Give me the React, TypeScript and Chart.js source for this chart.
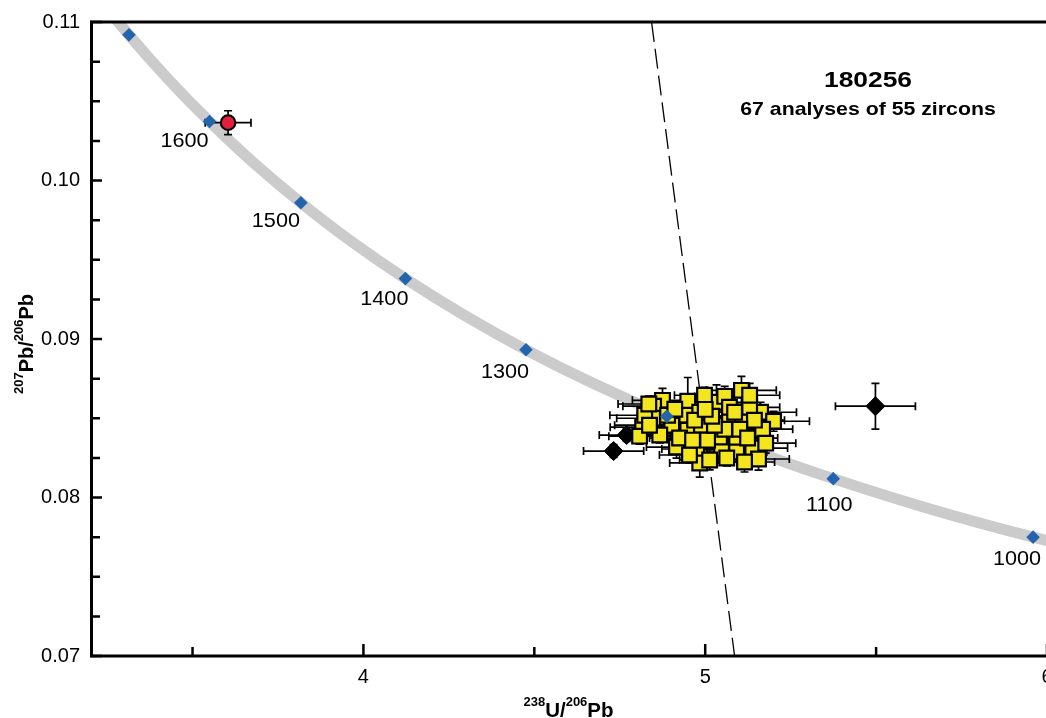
import React, { useEffect, useRef } from "react";
import { Chart, registerables } from "chart.js";

Chart.register(...registerables);

// ---------- data ----------
// Concordia curve points (every 50 Ma from 950 to 1800 Ma)
const concordiaX = [6.298, 5.9593, 5.653, 5.3746, 5.1204, 4.8875, 4.6733, 4.4756, 4.2926, 4.1227, 3.9645, 3.817, 3.679, 3.5497, 3.4282, 3.3139, 3.2063, 3.1046];
const concordiaY = [0.07574, 0.0775, 0.07931, 0.08119, 0.08312, 0.08512, 0.08719, 0.08932, 0.09153, 0.09381, 0.09616, 0.0986, 0.10111, 0.10372, 0.10641, 0.10919, 0.11206, 0.11504];

// Age markers on the concordia
const markerAges = [1000, 1100, 1200, 1300, 1400, 1500, 1600, 1700];
const markerX = [5.9593, 5.3746, 4.8875, 4.4756, 4.1227, 3.817, 3.5497, 3.3139];
const markerY = [0.0775, 0.08119, 0.08512, 0.08932, 0.09381, 0.0986, 0.10372, 0.10919];
const markerLabels = ["1000", "1100", "", "1300", "1400", "1500", "1600", ""];

// Discordia (dashed) line
const discordiaX = [4.843, 5.086];
const discordiaY = [0.11, 0.07];

// Concordant zircon analyses (yellow squares)
const zirconX = [4.875, 4.849, 4.846, 4.817, 4.808, 4.949, 4.946, 4.949, 4.916, 4.975, 4.984, 4.902, 4.89, 4.911, 4.823, 4.835, 5.106, 5.033, 5.057, 5.071, 5.109, 5.162, 5.2, 5.168, 4.989, 5.048, 5.092, 5.139, 5.156, 5.177, 5.092, 5.042, 5.071, 4.984, 4.867, 5.13, 5.144, 5.013, 5.115, 4.969, 5.007, 5.057, 5.101, 5.027, 4.925, 5.086, 5.124, 4.954, 5.063, 5.019, 4.998, 5.13, 4.963, 5.0, 4.837];
const zirconY = [0.08613, 0.08576, 0.085, 0.08444, 0.08387, 0.08607, 0.08519, 0.08425, 0.08318, 0.08306, 0.08218, 0.08456, 0.08519, 0.08557, 0.08519, 0.0859, 0.08676, 0.08601, 0.08638, 0.08488, 0.08513, 0.08538, 0.08481, 0.08431, 0.08456, 0.08306, 0.08362, 0.08312, 0.08243, 0.08343, 0.08287, 0.08381, 0.08569, 0.08538, 0.08394, 0.08569, 0.08488, 0.08237, 0.08224, 0.08488, 0.08362, 0.08431, 0.08431, 0.08456, 0.08375, 0.08538, 0.08375, 0.08268, 0.08249, 0.08513, 0.08645, 0.08645, 0.08362, 0.08556, 0.08456];
const zirconXErr = [0.088, 0.09, 0.105, 0.095, 0.09, 0.088, 0.088, 0.102, 0.088, 0.102, 0.088, 0.088, 0.088, 0.088, 0.102, 0.09, 0.102, 0.088, 0.088, 0.088, 0.088, 0.105, 0.105, 0.088, 0.102, 0.088, 0.102, 0.102, 0.09, 0.088, 0.088, 0.088, 0.088, 0.088, 0.102, 0.088, 0.088, 0.088, 0.088, 0.088, 0.088, 0.088, 0.088, 0.088, 0.088, 0.088, 0.088, 0.088, 0.088, 0.088, 0.088, 0.088, 0.088, 0.088, 0.102];
const zirconYErr = [0.00075, 0.00063, 0.0005, 0.0005, 0.0005, 0.0015, 0.00063, 0.00063, 0.0007, 0.00063, 0.0009, 0.0005, 0.0005, 0.0005, 0.0005, 0.0005, 0.00088, 0.0011, 0.00063, 0.00063, 0.00063, 0.00063, 0.00063, 0.00063, 0.00063, 0.00063, 0.00063, 0.00063, 0.0007, 0.00063, 0.00063, 0.00063, 0.00063, 0.00063, 0.0005, 0.00063, 0.00063, 0.00063, 0.00063, 0.0005, 0.0005, 0.0005, 0.0005, 0.0005, 0.0005, 0.0005, 0.0005, 0.0005, 0.0005, 0.0005, 0.0005, 0.00075, 0.0005, 0.0005, 0.0005];

// Discordant analyses (black diamonds)
const outlierX = [4.732, 4.77, 5.498];
const outlierY = [0.08293, 0.08394, 0.08576];
const outlierXErr = [0.088, 0.08, 0.117];
const outlierYErr = [0.0004, 0.0004, 0.00144];

// Inherited grain (red circle)
const inheritedX = [3.604];
const inheritedY = [0.10365];
const inheritedXErr = [0.067];
const inheritedYErr = [0.00075];

// Axes
const xTickValues = [3.5, 4, 4.5, 5, 5.5, 6];
const xMajorTicks = [4, 5, 6];
const yTickValues = [0.07, 0.0725, 0.075, 0.0775, 0.08, 0.0825, 0.085, 0.0875, 0.09, 0.0925, 0.095, 0.0975, 0.1, 0.1025, 0.105, 0.1075, 0.11];
const yMajorTicks = [0.07, 0.08, 0.09, 0.1, 0.11];

const sampleTitle = "180256";
const sampleSubtitle = "67 analyses of 55 zircons";

// ---------- drawing helpers ----------
const FAMILY = '"Liberation Sans", Arial, Helvetica, sans-serif';

const labelOffsets: Record<string, [number, number]> = {
  "1000": [-16, 21],
  "1100": [-4, 26],
  "1300": [-21, 21],
  "1400": [-21, 20],
  "1500": [-25, 18],
  "1600": [-25, 19],
};

function pairs(xs: number[], ys: number[]) {
  return xs.map((x, i) => ({ x, y: ys[i] }));
}

function drawStretched(ctx: CanvasRenderingContext2D, text: string, cx: number, base: number, font: string, sx: number) {
  ctx.save();
  ctx.translate(cx, base);
  ctx.scale(sx, 1);
  ctx.font = font;
  ctx.textAlign = "center";
  ctx.textBaseline = "alphabetic";
  ctx.fillStyle = "#000";
  ctx.fillText(text, 0, 0);
  ctx.restore();
}

function drawRich(ctx: CanvasRenderingContext2D, parts: [string, boolean][], cx: number, base: number, bigPx: number, smallPx: number, raise: number) {
  const big = `bold ${bigPx}px ${FAMILY}`;
  const small = `bold ${smallPx}px ${FAMILY}`;
  let total = 0;
  for (const [t, sup] of parts) {
    ctx.font = sup ? small : big;
    total += ctx.measureText(t).width;
  }
  let x = cx - total / 2;
  ctx.textAlign = "left";
  ctx.textBaseline = "alphabetic";
  ctx.fillStyle = "#000";
  for (const [t, sup] of parts) {
    ctx.font = sup ? small : big;
    ctx.fillText(t, x, sup ? base - raise : base);
    x += ctx.measureText(t).width;
  }
}

const errorBarPlugin = {
  id: "errorBars",
  beforeDatasetDraw(chart: any, args: any) {
    const ds = chart.data.datasets[args.index];
    if (!ds.xErr) return;
    const { ctx } = chart;
    const xs = chart.scales.x;
    const ys = chart.scales.y;
    const cap = 4;
    ctx.save();
    ctx.strokeStyle = "#000";
    ctx.lineWidth = 1.7;
    ctx.lineCap = "butt";
    ds.data.forEach((p: any, i: number) => {
      const px = xs.getPixelForValue(p.x);
      const py = ys.getPixelForValue(p.y);
      const x0 = xs.getPixelForValue(p.x - ds.xErr[i]);
      const x1 = xs.getPixelForValue(p.x + ds.xErr[i]);
      const y0 = ys.getPixelForValue(p.y - ds.yErr[i]);
      const y1 = ys.getPixelForValue(p.y + ds.yErr[i]);
      ctx.beginPath();
      ctx.moveTo(x0, py);
      ctx.lineTo(x1, py);
      ctx.moveTo(x0, py - cap);
      ctx.lineTo(x0, py + cap);
      ctx.moveTo(x1, py - cap);
      ctx.lineTo(x1, py + cap);
      ctx.moveTo(px, y0);
      ctx.lineTo(px, y1);
      ctx.moveTo(px - cap, y0);
      ctx.lineTo(px + cap, y0);
      ctx.moveTo(px - cap, y1);
      ctx.lineTo(px + cap, y1);
      ctx.stroke();
    });
    ctx.restore();
  },
};

const decorPlugin = {
  id: "decor",
  afterDraw(chart: any) {
    const { ctx, chartArea } = chart;
    const xs = chart.scales.x;
    const ys = chart.scales.y;
    const { left, top, bottom } = chartArea;
    ctx.save();
    // frame
    ctx.strokeStyle = "#000";
    ctx.lineWidth = 3;
    ctx.lineCap = "square";
    ctx.beginPath();
    ctx.moveTo(left + 1.5, top);
    ctx.lineTo(left + 1.5, bottom);
    ctx.moveTo(left + 1.5, bottom);
    ctx.lineTo(chart.width, bottom);
    ctx.moveTo(left + 1.5, top);
    ctx.lineTo(chart.width, top);
    ctx.stroke();
    // inward tick marks
    ctx.lineWidth = 2.5;
    ctx.lineCap = "butt";
    ctx.beginPath();
    for (const t of xs.ticks) {
      const px = xs.getPixelForValue(t.value);
      const len = xMajorTicks.includes(t.value) ? 12 : 9;
      ctx.moveTo(px, bottom);
      ctx.lineTo(px, bottom - len);
    }
    for (const t of ys.ticks) {
      const py = ys.getPixelForValue(t.value);
      const len = yMajorTicks.includes(t.value) ? 12 : 10;
      ctx.moveTo(left, py);
      ctx.lineTo(left + len, py);
    }
    ctx.stroke();

    // age labels on concordia
    ctx.fillStyle = "#000";
    markerLabels.forEach((lab, i) => {
      if (!lab) return;
      const off = labelOffsets[lab] || [-20, 20];
      const px = xs.getPixelForValue(markerX[i]) + off[0];
      const py = ys.getPixelForValue(markerY[i]) + off[1];
      ctx.save();
      ctx.translate(px, py);
      ctx.scale(1.03, 1);
      ctx.font = `21px ${FAMILY}`;
      ctx.textAlign = "center";
      ctx.textBaseline = "middle";
      ctx.fillText(lab, 0, 1);
      ctx.restore();
    });

    // sample title
    drawStretched(ctx, sampleTitle, 868, 86.5, `bold 22px ${FAMILY}`, 1.2);
    drawStretched(ctx, sampleSubtitle, 868, 115, `bold 18.5px ${FAMILY}`, 1.15);

    // axis titles
    const cx = (chartArea.left + 1047) / 2;
    drawRich(ctx, [["238", true], ["U/", false], ["206", true], ["Pb", false]], cx, 716.5, 20.5, 13, 10.5);
    ctx.save();
    ctx.translate(33, 344);
    ctx.rotate(-Math.PI / 2);
    drawRich(ctx, [["207", true], ["Pb/", false], ["206", true], ["Pb", false]], 0, 0, 20, 13, 10.5);
    ctx.restore();

    ctx.restore();
  },
};

export default function App() {
  const canvasRef = useRef<HTMLCanvasElement | null>(null);

  useEffect(() => {
    document.body.style.margin = "0";
    const canvas = canvasRef.current;
    if (!canvas) return;

    const chart = new Chart(canvas, {
      type: "scatter",
      data: {
        datasets: [
          {
            label: "Concordia",
            type: "line",
            data: pairs(concordiaX, concordiaY),
            showLine: true,
            borderColor: "#cbcbcb",
            borderWidth: 11,
            borderCapStyle: "butt",
            pointRadius: 0,
            tension: 0.3,
            fill: false,
            order: 10,
          } as any,
          {
            label: "Discordia",
            type: "line",
            data: pairs(discordiaX, discordiaY),
            showLine: true,
            borderColor: "#000",
            borderWidth: 1.3,
            borderDash: [20, 7],
            pointRadius: 0,
            fill: false,
            order: 9,
          } as any,
          {
            label: "Discordant",
            data: pairs(outlierX, outlierY),
            xErr: outlierXErr,
            yErr: outlierYErr,
            pointStyle: "rectRot",
            pointRadius: 9.5,
            backgroundColor: "#000",
            borderColor: "#000",
            borderWidth: 1,
            order: 8,
          } as any,
          {
            label: "Zircons",
            data: pairs(zirconX, zirconY),
            xErr: zirconXErr,
            yErr: zirconYErr,
            pointStyle: "rect",
            pointRadius: 10.4,
            backgroundColor: "#f3e61e",
            borderColor: "#000",
            borderWidth: 2.2,
            order: 7,
          } as any,
          {
            label: "Inherited",
            data: pairs(inheritedX, inheritedY),
            xErr: inheritedXErr,
            yErr: inheritedYErr,
            pointStyle: "circle",
            pointRadius: 7.3,
            backgroundColor: "#e21f3d",
            borderColor: "#000",
            borderWidth: 2,
            order: 6,
          } as any,
          {
            label: "Age markers (Ma)",
            data: pairs(markerX, markerY),
            ages: markerAges,
            pointStyle: "rectRot",
            pointRadius: 6.8,
            backgroundColor: "#2364ae",
            borderColor: "#2364ae",
            borderWidth: 0,
            order: 1,
          } as any,
        ],
      },
      options: {
        animation: false,
        responsive: false,
        devicePixelRatio: 1,
        events: [],
        layout: { padding: { top: 21.5, right: 53, left: 0, bottom: 0 } },
        plugins: {
          legend: { display: false },
          tooltip: { enabled: false },
        },
        scales: {
          x: {
            type: "linear",
            min: 3.2,
            max: 6,
            grid: { display: false, drawTicks: false },
            border: { display: false },
            afterBuildTicks: (scale: any) => {
              scale.ticks = xTickValues.map((v) => ({ value: v }));
            },
            afterFit: (scale: any) => {
              scale.height = 62;
            },
            ticks: {
              autoSkip: false,
              maxRotation: 0,
              padding: 9,
              color: "#000",
              font: { family: FAMILY, size: 20 },
              callback: (v: any) => (xMajorTicks.includes(Number(v)) ? String(v) : ""),
            },
          },
          y: {
            type: "linear",
            min: 0.07,
            max: 0.11,
            grid: { display: false, drawTicks: false },
            border: { display: false },
            afterBuildTicks: (scale: any) => {
              scale.ticks = yTickValues.map((v) => ({ value: v }));
            },
            afterFit: (scale: any) => {
              scale.width = 90;
            },
            ticks: {
              autoSkip: false,
              padding: 10,
              color: "#000",
              font: { family: FAMILY, size: 20 },
              callback: (v: any) => (yMajorTicks.includes(Number(v)) ? Number(v).toFixed(2) : ""),
            },
          },
        },
      } as any,
      plugins: [errorBarPlugin as any, decorPlugin as any],
    });

    return () => chart.destroy();
  }, []);

  return (
    <div style={{ width: 1046, height: 718, overflow: "hidden", position: "relative", background: "#fff" }}>
      <canvas ref={canvasRef} width={1100} height={718} style={{ display: "block" }} />
    </div>
  );
}
